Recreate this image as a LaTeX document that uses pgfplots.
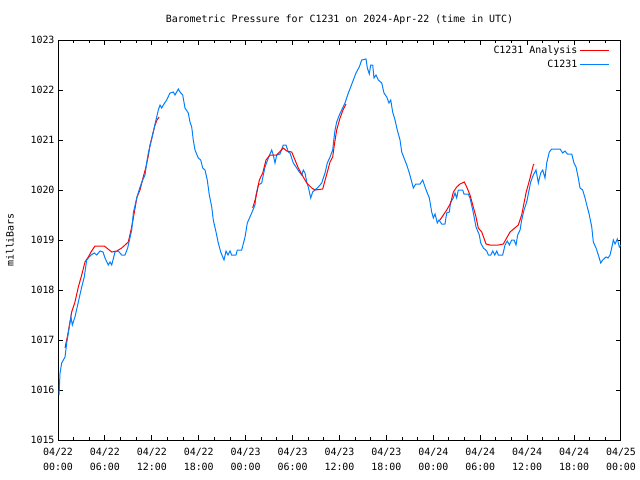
\documentclass[border=0pt]{standalone}
\usepackage{fontspec}
\setmainfont{DejaVu Sans Mono}
\usepackage{pgfplots}
\pgfplotsset{compat=1.18}

\definecolor{anared}{RGB}{255,0,0}
\definecolor{obsblue}{RGB}{0,128,255}

\begin{document}
\fontsize{9.95bp}{15bp}\selectfont
\begin{tikzpicture}
\useasboundingbox (0,0) rectangle (640bp,480bp);
\begin{axis}[
    at={(58bp,40bp)}, anchor=south west,
    scale only axis, width=563bp, height=400bp,
    xmin=0, xmax=72, ymin=1015, ymax=1023,
    axis line style={line width=1bp},
    tick align=inside, tick pos=both,
    major tick length=5bp, minor tick length=3bp,
    every tick/.style={black, line width=1bp},
    xtick={0,6,...,72}, minor x tick num=2,
    xticklabels={04/22\\00:00,04/22\\06:00,04/22\\12:00,04/22\\18:00,
                 04/23\\00:00,04/23\\06:00,04/23\\12:00,04/23\\18:00,
                 04/24\\00:00,04/24\\06:00,04/24\\12:00,04/24\\18:00,
                 04/25\\00:00},
    xticklabel style={align=center, yshift=-5bp},
    ytick={1015,1016,...,1023},
    yticklabel style={/pgf/number format/.cd, 1000 sep={}, assume math mode=true},
    title={Barometric Pressure for C1231 on 2024-Apr-22 (time in UTC)},
    title style={at={(0.5,1)}, anchor=base, yshift=12bp},
    ylabel={milliBars},
    every axis y label/.style={at={(axis description cs:0,0.5)}, rotate=90, anchor=center, yshift=48bp},
    legend style={draw=none, fill=none, at={(rel axis cs:0.985,0.995)}, anchor=north east,
                  row sep=1bp},
    legend cell align=right, legend plot pos=right,
    legend image code/.code={\draw[#1] (0bp,0bp) -- (29bp,0bp);},
]
% C1231 Analysis (red), three segments
\addplot[anared, line width=1bp] table {
0.90 1016.84
1.24 1017.10
1.75 1017.56
2.17 1017.76
2.60 1018.06
3.03 1018.30
3.45 1018.56
3.88 1018.66
4.22 1018.76
4.73 1018.88
5.92 1018.88
6.87 1018.76
7.51 1018.78
8.15 1018.84
8.99 1018.96
9.34 1019.20
9.59 1019.40
10.10 1019.86
10.49 1020.00
10.87 1020.24
11.25 1020.46
11.57 1020.70
11.77 1020.90
12.15 1021.14
12.41 1021.30
12.66 1021.40
12.92 1021.46
};
\addlegendentry{C1231 Analysis}
\addplot[obsblue, line width=1bp] table {
0.13 1015.90
0.26 1016.34
0.47 1016.54
0.90 1016.66
1.11 1016.94
1.53 1017.34
1.66 1017.46
1.83 1017.30
2.17 1017.46
2.60 1017.76
3.03 1018.06
3.36 1018.26
3.67 1018.60
3.88 1018.64
4.22 1018.70
4.64 1018.74
4.95 1018.70
5.37 1018.78
5.76 1018.76
6.01 1018.64
6.43 1018.50
6.65 1018.56
6.87 1018.50
7.29 1018.76
7.71 1018.78
8.15 1018.70
8.57 1018.70
8.91 1018.84
9.08 1018.96
9.43 1019.20
9.63 1019.54
10.07 1019.84
10.49 1020.06
10.83 1020.20
11.13 1020.30
11.34 1020.54
11.55 1020.74
11.86 1020.94
12.19 1021.16
12.53 1021.40
12.83 1021.60
13.05 1021.70
13.26 1021.64
13.47 1021.70
13.90 1021.80
14.32 1021.94
14.75 1021.96
14.96 1021.90
15.39 1022.02
15.60 1021.96
15.95 1021.90
16.24 1021.64
16.66 1021.54
16.88 1021.36
17.10 1021.26
17.30 1021.00
17.52 1020.80
17.94 1020.64
18.25 1020.60
18.51 1020.44
18.80 1020.40
19.09 1020.20
19.35 1019.90
19.66 1019.66
19.86 1019.40
20.21 1019.16
20.50 1018.94
20.81 1018.76
21.23 1018.60
21.49 1018.78
21.74 1018.70
22.00 1018.78
22.21 1018.70
22.76 1018.70
22.93 1018.80
23.49 1018.80
23.92 1019.06
24.21 1019.34
24.77 1019.54
25.19 1019.70
25.32 1019.90
25.62 1020.10
26.05 1020.14
26.47 1020.46
26.90 1020.64
27.33 1020.80
27.53 1020.70
27.75 1020.54
27.97 1020.70
28.39 1020.72
28.81 1020.90
29.16 1020.90
29.45 1020.76
29.67 1020.74
30.09 1020.54
30.53 1020.44
30.86 1020.36
31.17 1020.30
31.37 1020.40
31.59 1020.34
31.81 1020.16
32.01 1020.06
32.32 1019.84
32.57 1019.96
32.87 1020.00
33.29 1020.06
33.73 1020.14
33.93 1020.24
34.15 1020.34
34.44 1020.54
34.79 1020.66
35.13 1020.80
35.30 1021.04
35.43 1021.20
35.64 1021.36
35.98 1021.50
36.28 1021.60
36.70 1021.74
37.13 1021.94
37.43 1022.06
37.77 1022.20
38.11 1022.34
38.53 1022.46
38.84 1022.60
39.39 1022.62
39.56 1022.44
39.81 1022.32
39.99 1022.50
40.25 1022.50
40.41 1022.24
40.67 1022.30
40.96 1022.20
41.40 1022.14
41.69 1021.94
42.04 1021.86
42.33 1021.74
42.55 1021.80
42.80 1021.56
43.10 1021.40
43.39 1021.20
43.74 1021.00
43.96 1020.76
44.25 1020.64
44.60 1020.50
44.93 1020.34
45.24 1020.16
45.44 1020.04
45.75 1020.12
46.30 1020.12
46.64 1020.20
46.94 1020.06
47.23 1019.94
47.49 1019.84
47.79 1019.56
48.00 1019.44
48.22 1019.52
48.51 1019.34
48.73 1019.40
49.07 1019.32
49.49 1019.32
49.71 1019.54
50.04 1019.56
50.22 1019.76
50.56 1019.84
50.77 1019.94
50.99 1019.84
51.19 1020.00
51.76 1020.00
51.92 1019.92
52.47 1019.92
52.69 1019.84
53.04 1019.60
53.24 1019.44
53.46 1019.26
53.88 1019.10
54.06 1018.94
54.40 1018.84
54.83 1018.78
55.04 1018.70
55.35 1018.70
55.60 1018.78
55.86 1018.70
56.11 1018.78
56.31 1018.70
56.87 1018.70
57.17 1018.90
57.46 1018.98
57.72 1018.90
58.02 1019.00
58.32 1019.00
58.57 1018.90
58.79 1019.10
59.09 1019.20
59.30 1019.40
59.60 1019.60
59.94 1019.76
60.45 1020.16
60.79 1020.30
61.13 1020.40
61.43 1020.14
61.73 1020.34
61.99 1020.40
62.28 1020.24
62.50 1020.54
62.83 1020.76
63.14 1020.82
64.20 1020.82
64.55 1020.74
64.84 1020.78
65.14 1020.72
65.70 1020.72
65.99 1020.54
66.25 1020.46
66.54 1020.24
66.76 1020.04
67.10 1020.00
67.40 1019.84
67.69 1019.66
67.95 1019.50
68.26 1019.26
68.46 1018.96
68.81 1018.84
69.10 1018.70
69.41 1018.54
69.66 1018.60
70.08 1018.66
70.34 1018.64
70.60 1018.70
70.81 1018.84
71.02 1019.00
71.24 1018.92
71.53 1019.02
71.79 1018.86
72.00 1018.90
};
\addlegendentry{C1231}
\addplot[anared, line width=1bp, forget plot] table {
24.90 1019.64
25.32 1019.86
25.75 1020.20
26.18 1020.34
26.60 1020.60
27.11 1020.70
27.97 1020.70
28.81 1020.84
29.25 1020.78
29.89 1020.76
30.31 1020.60
30.73 1020.44
31.37 1020.26
31.81 1020.14
32.45 1020.04
32.87 1020.00
33.85 1020.02
34.27 1020.26
34.79 1020.56
35.13 1020.66
35.34 1020.90
35.64 1021.20
36.07 1021.44
36.45 1021.60
36.83 1021.72
};
\addplot[anared, line width=1bp, forget plot] table {
48.85 1019.40
49.71 1019.60
50.22 1019.74
50.56 1019.96
50.99 1020.06
51.41 1020.12
51.96 1020.16
52.27 1020.06
52.69 1019.90
53.11 1019.66
53.46 1019.46
53.75 1019.24
54.19 1019.16
54.74 1018.92
55.25 1018.90
56.31 1018.90
56.95 1018.92
57.81 1019.16
58.87 1019.30
59.30 1019.50
59.85 1019.94
60.37 1020.24
60.79 1020.50
60.88 1020.52
};
\end{axis}
\end{tikzpicture}
\end{document}
